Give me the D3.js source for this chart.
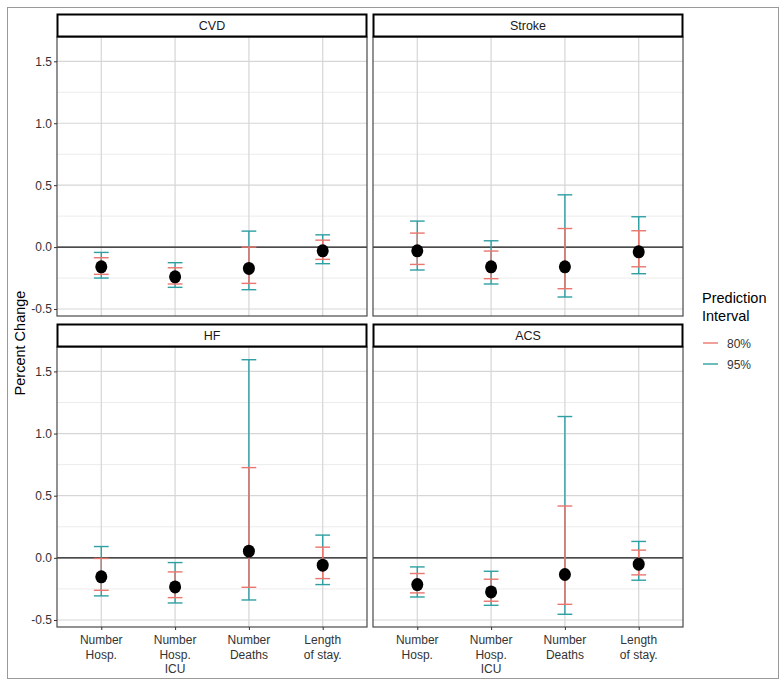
<!DOCTYPE html>
<html>
<head>
<meta charset="utf-8">
<script src="https://cdn.jsdelivr.net/npm/d3@7"></script>
<style>
  html, body { margin: 0; padding: 0; background: #fff; }
  svg { display: block; font-family: "Liberation Sans", Arial, sans-serif; }
</style>
</head>
<body>
<svg id="chart" width="784" height="684"></svg>
<script>
// ---- Data ----
const facets = ["CVD", "Stroke", "HF", "ACS"];
const measures = ["Number\nHosp.", "Number\nHosp.\nICU", "Number\nDeaths", "Length\nof stay."];
const intervals = ["80%", "95%"];
const yTicks = [-0.5, 0.0, 0.5, 1.0, 1.5];
const yMinorTicks = [-0.25, 0.25, 0.75, 1.25];

// one row per facet (CVD, Stroke, HF, ACS), one value per measure
const estimate = [
  [-0.159, -0.240, -0.172, -0.030],
  [-0.030, -0.159, -0.159, -0.038],
  [-0.153, -0.234,  0.054, -0.059],
  [-0.215, -0.274, -0.134, -0.051]
];
const lower80 = [
  [-0.220, -0.298, -0.293, -0.099],
  [-0.140, -0.255, -0.336, -0.159],
  [-0.261, -0.320, -0.237, -0.167],
  [-0.282, -0.349, -0.374, -0.137]
];
const upper80 = [
  [-0.086, -0.167,  0.000,  0.056],
  [ 0.113, -0.032,  0.150,  0.132],
  [-0.005, -0.113,  0.726,  0.086],
  [-0.126, -0.172,  0.417,  0.062]
];
const lower95 = [
  [-0.250, -0.325, -0.344, -0.134],
  [-0.185, -0.298, -0.403, -0.215],
  [-0.306, -0.363, -0.339, -0.215],
  [-0.315, -0.382, -0.454, -0.180]
];
const upper95 = [
  [-0.043, -0.126,  0.129,  0.099],
  [ 0.210,  0.051,  0.422,  0.245],
  [ 0.091, -0.038,  1.594,  0.183],
  [-0.073, -0.108,  1.137,  0.132]
];

// ---- Layout ----
const svg = d3.select("#chart");
const colX = [[57, 367], [373, 683]];
const rowY = [{strip: 14, top: 37, bottom: 316}, {strip: 324, top: 347, bottom: 627}];
const colors = {"80%": "#ea766e", "95%": "#2e9fa3"};
const textCol = "#333333";

// outer frame
svg.append("rect").attr("x", 7.5).attr("y", 7.5).attr("width", 771).attr("height", 671)
  .attr("fill", "none").attr("stroke", "#9a9a9a").attr("stroke-width", 1);

const allVals = d3.merge([...lower95, ...upper95, ...lower80, ...upper80, ...estimate]);
const vmin = d3.min(allVals), vmax = d3.max(allVals);
const pad = (vmax - vmin) * 0.05;

facets.forEach((name, fi) => {
  const col = fi % 2, row = Math.floor(fi / 2);
  const [x0, x1] = colX[col];
  const R = rowY[row];

  const x = d3.scalePoint().domain(measures).range([x0, x1]).padding(0.6);
  const y = d3.scaleLinear().domain([vmin - pad, vmax + pad]).range([R.bottom, R.top]);

  const g = svg.append("g");

  // minor grid
  g.selectAll(".minor").data(yMinorTicks).join("line")
    .attr("x1", x0).attr("x2", x1)
    .attr("y1", d => y(d)).attr("y2", d => y(d))
    .attr("stroke", "#ececec").attr("stroke-width", 1);
  // major grid
  g.selectAll(".major").data(yTicks).join("line")
    .attr("x1", x0).attr("x2", x1)
    .attr("y1", d => y(d)).attr("y2", d => y(d))
    .attr("stroke", "#d6d6d6").attr("stroke-width", 1.2);
  g.selectAll(".vgrid").data(measures).join("line")
    .attr("x1", d => x(d)).attr("x2", d => x(d))
    .attr("y1", R.top).attr("y2", R.bottom)
    .attr("stroke", "#d6d6d6").attr("stroke-width", 1.2);

  // zero line
  g.append("line").attr("x1", x0).attr("x2", x1)
    .attr("y1", y(0)).attr("y2", y(0))
    .attr("stroke", "#1a1a1a").attr("stroke-width", 1.2);

  // error bars: 95% first, then 80% on top
  const bw = (x(measures[1]) - x(measures[0])) * 0.2;
  const series = [
    {key: "95%", lo: lower95[fi], hi: upper95[fi]},
    {key: "80%", lo: lower80[fi], hi: upper80[fi]}
  ];
  series.forEach(s => {
    const eg = g.append("g").attr("stroke", colors[s.key]).attr("stroke-width", 1.4).attr("fill", "none");
    measures.forEach((m, i) => {
      const cx = x(m);
      eg.append("line").attr("x1", cx).attr("x2", cx).attr("y1", y(s.lo[i])).attr("y2", y(s.hi[i]));
      eg.append("line").attr("x1", cx - bw / 2).attr("x2", cx + bw / 2).attr("y1", y(s.lo[i])).attr("y2", y(s.lo[i]));
      eg.append("line").attr("x1", cx - bw / 2).attr("x2", cx + bw / 2).attr("y1", y(s.hi[i])).attr("y2", y(s.hi[i]));
    });
  });

  // points
  g.selectAll(".pt").data(estimate[fi]).join("ellipse")
    .attr("cx", (d, i) => x(measures[i])).attr("cy", d => y(d))
    .attr("rx", 6).attr("ry", 6.5).attr("fill", "#000");

  // panel border
  g.append("rect").attr("x", x0).attr("y", R.top).attr("width", x1 - x0).attr("height", R.bottom - R.top)
    .attr("fill", "none").attr("stroke", "#4a4a4a").attr("stroke-width", 1.2);

  // strip
  g.append("rect").attr("x", x0 + 0.5).attr("y", R.strip + 0.5).attr("width", x1 - x0 - 1).attr("height", R.top - R.strip - 1)
    .attr("fill", "#fff").attr("stroke", "#000").attr("stroke-width", 2);
  g.append("text").attr("x", (x0 + x1) / 2).attr("y", (R.strip + R.top) / 2 + 4.5)
    .attr("text-anchor", "middle").attr("font-size", 12.5).attr("fill", "#1a1a1a").text(name);

  // y axis (left column only)
  if (col === 0) {
    const ya = g.append("g").attr("transform", `translate(${x0},0)`)
      .call(d3.axisLeft(y).tickValues(yTicks).tickFormat(d3.format(".1f")).tickSize(3).tickPadding(2));
    ya.select(".domain").remove();
    ya.selectAll(".tick line").attr("stroke", "#333");
    ya.selectAll(".tick text").attr("font-size", 12).attr("fill", textCol)
      .attr("font-family", "Liberation Sans, Arial, sans-serif")
      .text(d => d < 0 ? "-" + Math.abs(d).toFixed(1) : d.toFixed(1));
  }

  // x axis (bottom row only)
  if (row === 1) {
    const xa = g.append("g").attr("transform", `translate(0,${R.bottom})`)
      .call(d3.axisBottom(x).tickSize(3).tickFormat(""));
    xa.select(".domain").remove();
    xa.selectAll(".tick line").attr("stroke", "#333");
    measures.forEach(m => {
      const lines = m.split("\n");
      const t = g.append("text").attr("text-anchor", "middle").attr("font-size", 12).attr("fill", textCol);
      lines.forEach((ln, li) => {
        t.append("tspan").attr("x", x(m)).attr("y", R.bottom + 17 + li * 14.5).text(ln);
      });
    });
  }
});

// y axis title
svg.append("text").attr("transform", "translate(25,343) rotate(-90)")
  .attr("text-anchor", "middle").attr("font-size", 14.5).attr("fill", "#000").text("Percent Change");

// legend
const lg = svg.append("g");
lg.append("text").attr("x", 702).attr("y", 303).attr("font-size", 14.5).attr("fill", "#000").text("Prediction");
lg.append("text").attr("x", 702).attr("y", 321).attr("font-size", 14.5).attr("fill", "#000").text("Interval");
intervals.forEach((k, i) => {
  const yy = 343 + i * 21;
  lg.append("line").attr("x1", 703).attr("x2", 718).attr("y1", yy).attr("y2", yy)
    .attr("stroke", colors[k]).attr("stroke-width", 1.4);
  lg.append("text").attr("x", 727).attr("y", yy + 4.5).attr("font-size", 12).attr("fill", textCol).text(k);
});
</script>
</body>
</html>
